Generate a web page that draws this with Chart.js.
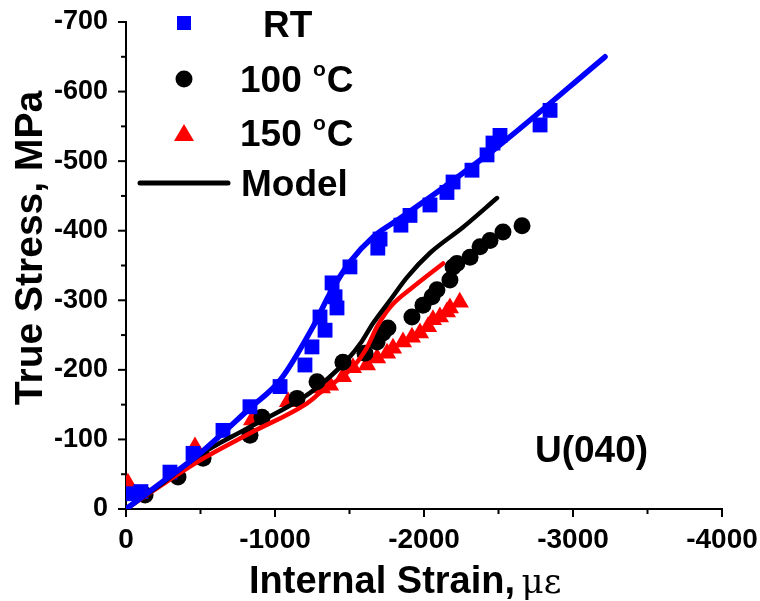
<!DOCTYPE html>
<html>
<head>
<meta charset="utf-8">
<script src="https://cdn.jsdelivr.net/npm/chart.js@4"></script>
<style>
  html, body { margin: 0; padding: 0; background: #fff; }
  #wrap { width: 760px; height: 601px; }
</style>
</head>
<body>
<div id="wrap"><canvas id="stressChart" width="760" height="601"></canvas></div>
<script>
// measured points (strain in microstrain, stress in MPa)
const rtStrain = [-40, -100, -295, -450, -651, -832, -1034, -1201, -1248, -1302, -1336, -1383, -1403, -1416, -1503, -1690, -1705, -1845, -1906, -2040, -2154, -2195, -2322, -2423, -2463, -2510, -2779, -2846];
const rtStress = [-22, -25, -53, -80, -113, -147, -176, -207, -233, -276, -257, -325, -305, -289, -348, -375, -388, -408, -422, -437, -455, -470, -487, -509, -526, -537, -552, -573];

const c100Strain = [-128, -349, -517, -832, -913, -1148, -1282, -1456, -1604, -1685, -1725, -1758, -1919, -1993, -2054, -2087, -2174, -2195, -2221, -2309, -2376, -2443, -2530, -2658];
const c100Stress = [-20, -46, -73, -106, -132, -159, -183, -211, -224, -240, -253, -260, -276, -293, -305, -315, -329, -348, -353, -362, -377, -386, -398, -407];

const c150Strain = [-13, -463, -846, -1087, -1315, -1369, -1456, -1523, -1617, -1685, -1752, -1792, -1859, -1919, -1973, -2027, -2060, -2107, -2154, -2174, -2240];
const c150Stress = [-37, -89, -128, -154, -174, -178, -190, -203, -207, -217, -224, -231, -240, -247, -253, -262, -272, -276, -283, -289, -297];

// model curves
const rtModelStrain = [0, -250, -497, -832, -1034, -1255, -1369, -1503, -1658, -1819, -2040, -2262, -2490, -3215];
const rtModelStress = [0, -40, -80, -145, -185, -262, -310, -355, -391, -415, -448, -483, -520, -650];

const m100Strain = [0, -250, -497, -832, -1235, -1483, -1580, -1658, -1772, -1886, -2040, -2262, -2490];
const m100Stress = [0, -38, -78, -118, -167, -214, -240, -267, -300, -333, -368, -405, -447];

const m150Strain = [0, -497, -832, -1215, -1302, -1523, -1617, -1685, -1772, -1926, -2128];
const m150Stress = [0, -70, -109, -152, -167, -204, -232, -262, -290, -319, -353];

const xTicks = [0, -1000, -2000, -3000, -4000];
const yTicks = [0, -100, -200, -300, -400, -500, -600, -700];

const legendItems = ["RT", "100", "150", "Model"];

function pairs(xs, ys) { return xs.map((x, i) => ({ x: x, y: ys[i] })); }

// draws tick marks, axis titles, legend and the U(040) label
const decorPlugin = {
    id: 'decor',
    afterDraw(chart) {
        const ctx = chart.ctx;
        const xs = chart.scales.x, ys = chart.scales.y;
        const area = chart.chartArea;
        ctx.save();
        ctx.strokeStyle = '#000';
        ctx.lineWidth = 2;
        xs.ticks.forEach(t => {
            const px = xs.getPixelForValue(t.value);
            const len = xTicks.includes(t.value) ? 8 : 5;
            ctx.beginPath(); ctx.moveTo(px, area.bottom); ctx.lineTo(px, area.bottom + len); ctx.stroke();
        });
        ys.ticks.forEach(t => {
            const py = ys.getPixelForValue(t.value);
            const len = yTicks.includes(t.value) ? 8 : 5;
            ctx.beginPath(); ctx.moveTo(area.left, py); ctx.lineTo(area.left - len, py); ctx.stroke();
        });

        ctx.fillStyle = '#000';
        // y title
        ctx.save();
        ctx.translate(31, 248);
        ctx.rotate(-Math.PI / 2);
        ctx.font = "bold 39px 'Liberation Sans', Arial, sans-serif";
        ctx.textAlign = 'center';
        ctx.textBaseline = 'middle';
        ctx.fillText('True Stress, MPa', 0, 0);
        ctx.restore();

        // x title
        ctx.textBaseline = 'alphabetic';
        ctx.textAlign = 'left';
        ctx.font = "bold 38px 'Liberation Sans', Arial, sans-serif";
        const part1 = 'Internal Strain, ';
        ctx.fillText(part1, 249, 593);
        const w1 = ctx.measureText(part1).width;
        ctx.font = "34px 'DejaVu Serif', serif";
        ctx.fillText('\u03bc\u03b5', 249 + w1 - 4, 593);

        // sample label
        ctx.font = "bold 37px 'Liberation Sans', Arial, sans-serif";
        ctx.fillText('U(040)', 535, 462);

        // legend
        const lx = 184;
        ctx.fillStyle = '#0000ff';
        ctx.fillRect(lx - 7, 16, 14, 14);
        ctx.fillStyle = '#000';
        ctx.beginPath(); ctx.arc(lx, 79, 8.5, 0, Math.PI * 2); ctx.fill();
        ctx.fillStyle = '#ff0000';
        ctx.beginPath(); ctx.moveTo(lx, 124); ctx.lineTo(lx + 10, 141); ctx.lineTo(lx - 10, 141); ctx.closePath(); ctx.fill();
        ctx.strokeStyle = '#000'; ctx.lineWidth = 5; ctx.lineCap = 'round';
        ctx.beginPath(); ctx.moveTo(140, 183); ctx.lineTo(228, 183); ctx.stroke();

        ctx.fillStyle = '#000';
        ctx.font = "bold 37px 'Liberation Sans', Arial, sans-serif";
        ctx.fillText(legendItems[0], 263, 37);
        [[legendItems[1], 92], [legendItems[2], 146]].forEach(([num, base]) => {
            ctx.font = "bold 37px 'Liberation Sans', Arial, sans-serif";
            const t = num + ' ';
            ctx.fillText(t, 240, base);
            let w = ctx.measureText(t).width;
            ctx.font = "bold 21px 'Liberation Sans', Arial, sans-serif";
            ctx.fillText('o', 240 + w + 1, base - 16);
            w += ctx.measureText('o').width + 2;
            ctx.font = "bold 37px 'Liberation Sans', Arial, sans-serif";
            ctx.fillText('C', 240 + w, base);
        });
        ctx.fillText(legendItems[3], 241, 196);
        ctx.restore();
    }
};

const lineStyle = (color, width) => ({
    showLine: true, borderColor: color, borderWidth: width, pointRadius: 0,
    cubicInterpolationMode: 'monotone', fill: false, borderCapStyle: 'round', borderJoinStyle: 'round', order: 0
});

new Chart(document.getElementById('stressChart'), {
    type: 'scatter',
    data: {
        datasets: [
            { label: 'RT model', data: pairs(rtModelStrain, rtModelStress), ...lineStyle('#0000ff', 5.5) },
            { label: '100 model', data: pairs(m100Strain, m100Stress), ...lineStyle('#000000', 4.5) },
            { label: '150 model', data: pairs(m150Strain, m150Stress), ...lineStyle('#ff0000', 4.5) },
            { label: 'RT', data: pairs(rtStrain, rtStress), pointStyle: 'rect', pointRadius: 10.5,
              backgroundColor: '#0000ff', borderWidth: 0, order: 1 },
            { label: '100 C', data: pairs(c100Strain, c100Stress), pointStyle: 'circle', pointRadius: 8.5,
              backgroundColor: '#000000', borderWidth: 0, order: 1 },
            { label: '150 C', data: pairs(c150Strain, c150Stress), pointStyle: 'triangle', pointRadius: 10.5,
              backgroundColor: '#ff0000', borderWidth: 0, order: 1 }
        ]
    },
    options: {
        responsive: false,
        animation: false,
        layout: { padding: { left: 0, top: 22, right: 38, bottom: 0 } },
        plugins: { legend: { display: false }, tooltip: { enabled: false } },
        scales: {
            x: {
                type: 'linear', min: -4000, max: 0, reverse: true,
                grid: { drawOnChartArea: false, drawTicks: false },
                border: { display: true, color: '#000', width: 2 },
                ticks: {
                    stepSize: 500, color: '#000', font: { family: "'Liberation Sans', Arial", size: 28, weight: 'bold' },
                    padding: 14, maxRotation: 0, autoSkip: false,
                    callback: v => xTicks.includes(v) ? String(v) : ''
                },
                afterFit: s => { s.height = 92; s.paddingLeft = 0; s.paddingRight = 0; }
            },
            y: {
                type: 'linear', min: -700, max: 0, reverse: true,
                grid: { drawOnChartArea: false, drawTicks: false },
                border: { display: true, color: '#000', width: 2 },
                ticks: {
                    stepSize: 50, color: '#000', font: { family: "'Liberation Sans', Arial", size: 27, weight: 'bold' },
                    padding: 18, autoSkip: false,
                    callback: v => yTicks.includes(v) ? String(v) : ''
                },
                afterFit: s => { s.width = 126; s.paddingTop = 0; s.paddingBottom = 0; }
            }
        }
    },
    plugins: [decorPlugin]
});
</script>
</body>
</html>
